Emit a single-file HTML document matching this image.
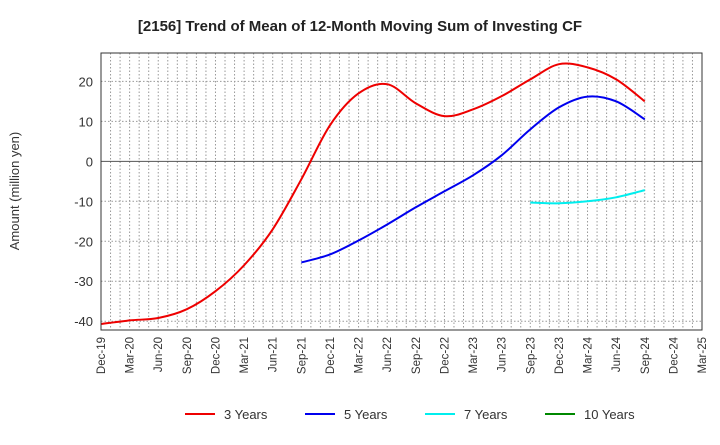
<!DOCTYPE html>
<html><head><meta charset="utf-8"><style>
body{margin:0;background:#fff;font-family:"Liberation Sans",sans-serif;}
svg text{font-family:"Liberation Sans",sans-serif;}
</style></head><body>
<svg id="c" width="720" height="440" xmlns="http://www.w3.org/2000/svg">
<text x="360" y="31" text-anchor="middle" font-size="15" font-weight="bold" fill="#222">[2156]  Trend of Mean of 12-Month Moving Sum of Investing CF</text>
<text transform="translate(19,191) rotate(-90)" text-anchor="middle" font-size="13" fill="#333">Amount (million yen)</text>
<g id="grid"></g><g id="series"></g><g id="axes"></g><g id="legend"></g>
</svg>
<script>
const xLabels=["Dec-19","Mar-20","Jun-20","Sep-20","Dec-20","Mar-21","Jun-21","Sep-21","Dec-21","Mar-22","Jun-22","Sep-22","Dec-22","Mar-23","Jun-23","Sep-23","Dec-23","Mar-24","Jun-24","Sep-24","Dec-24","Mar-25"];
const yTicks=[20,10,0,-10,-20,-30,-40];
const s3=[-40.7,-39.8,-39.2,-37,-32.5,-26,-17,-4.5,9,17,19.3,14.5,11.3,13,16.3,20.5,24.3,23.5,20.5,15];
const s5=[null,null,null,null,null,null,null,-25.3,-23.3,-19.8,-15.8,-11.5,-7.5,-3.5,1.5,8,13.5,16.2,15,10.5];
const s7=[null,null,null,null,null,null,null,null,null,null,null,null,null,null,null,-10.3,-10.5,-10,-9,-7.2];
const s10=[];
const names=["3 Years","5 Years","7 Years","10 Years"];
const colors=["#ee0000","#0000ee","#00eeee","#008800"];
const L=101,R=702,T=53,B=330,ymin=-42.2,ymax=27.1;
const X=i=>L+(R-L)*i/21, Y=v=>B-(v-ymin)/(ymax-ymin)*(B-T);
const NS="http://www.w3.org/2000/svg";
function mk(tag,attrs,parent){const e=document.createElementNS(NS,tag);for(const k in attrs)e.setAttribute(k,attrs[k]);parent.appendChild(e);return e;}
const g=document.getElementById('grid'),ax=document.getElementById('axes'),sg=document.getElementById('series'),lg=document.getElementById('legend');
for(let m=1;m<63;m++){const x=L+(R-L)*m/63;const l=mk('line',{x1:x,x2:x,y1:T,y2:B,stroke:'#999','stroke-dasharray':'1.5,2','stroke-width':1},g);

}
yTicks.forEach(v=>{const y=Y(v);const l=mk('line',{x1:L,x2:R,y1:y,y2:y,stroke:v===0?'#555':'#999','stroke-dasharray':v===0?'':'1.5,2','stroke-width':1},g);


const t=mk('text',{x:L-8,y:y+5,'text-anchor':'end','font-size':13,fill:'#333'},ax);t.textContent=v;

});
const fr=mk('rect',{x:L,y:T,width:R-L,height:B-T,fill:'none',stroke:'#333','stroke-width':1},ax);


xLabels.forEach((s,i)=>{const x=X(i);const t=mk('text',{transform:`translate(${x+4},337) rotate(-90)`,'text-anchor':'end','font-size':11.5,fill:'#333'},ax);t.textContent=s;

});
function path(data){const p=[];data.forEach((v,i)=>{if(v!=null)p.push([X(i),Y(v)]);});if(p.length<2)return '';
let d=`M${p[0][0]},${p[0][1]}`;for(let i=0;i<p.length-1;i++){const p0=p[i-1]||p[i],p1=p[i],p2=p[i+1],p3=p[i+2]||p2;
d+=` C${p1[0]+(p2[0]-p0[0])/6},${p1[1]+(p2[1]-p0[1])/6} ${p2[0]-(p3[0]-p1[0])/6},${p2[1]-(p3[1]-p1[1])/6} ${p2[0]},${p2[1]}`;}return d;}
[s3,s5,s7,s10].forEach((s,k)=>{const d=path(s);if(!d)return;const e=mk('path',{d,fill:'none',stroke:colors[k],'stroke-width':2},sg);

});
names.forEach((n,k)=>{const x0=185+120*k;const l=mk('line',{x1:x0,x2:x0+30,y1:414,y2:414,stroke:colors[k],'stroke-width':2},lg);


const t=mk('text',{x:x0+39,y:419,'font-size':13,fill:'#333'},lg);t.textContent=n;

});
</script>
</body></html>
